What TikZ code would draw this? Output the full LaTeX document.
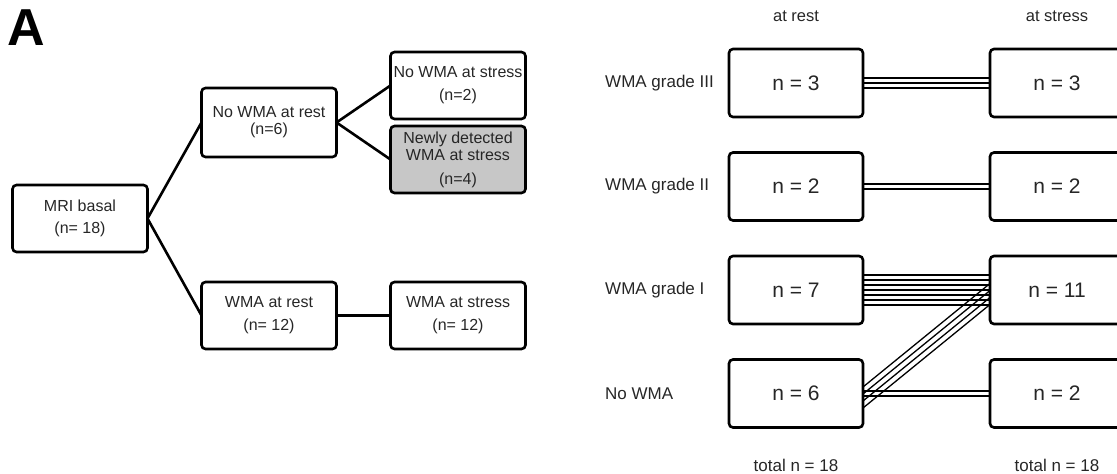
\documentclass[tikz,border=0pt]{standalone}
\usepackage{fontspec}
\setmainfont{Liberation Sans}
\usetikzlibrary{positioning}
\tikzstyle{box} = [draw, rectangle, rounded corners=4pt, line width=2.6pt,
 minimum width=135pt, minimum height=67pt, inner sep=2pt, outer sep=0pt, align=center,
 text=black!85, font=\fontsize{16}{17}\selectfont]
\tikzstyle{newbox} = [box, fill=black!22]
\tikzstyle{count} = [box, minimum width=134pt, minimum height=68pt,
 font=\fontsize{21}{24}\selectfont, node distance=35.5pt]
\tikzstyle{lab} = [inner sep=0pt, text=black!85, font=\fontsize{17}{20}\selectfont]
\tikzstyle{branch} = [line width=2.6pt]
\tikzstyle{patient} = [line width=1.3pt]

\begin{document}
\begin{tikzpicture}
	\useasboundingbox (0pt,0pt) rectangle (1117pt,-474pt);
	
	\node [anchor=north west, inner sep=0pt, font=\fontsize{52}{52}\selectfont\bfseries] (panel) at (7pt,-10pt) {A};
	
	\node [box] (mri) at (80pt,-218.5pt) {MRI basal\\[5pt](n= 18)};
	\node [box, minimum height=69pt, above right=28pt and 54pt of mri] (norest) {No WMA at rest\\(n=6)};
	\node [box, below right=30pt and 54pt of mri] (wrest) {WMA at rest\\[6pt](n= 12)};
	\node [coordinate, right=54pt of norest] (split) {};
	\node [box, above right=3.5pt and 0pt of split] (nostress) {No WMA at stress\\[6pt](n=2)};
	\node [newbox, below right=3.5pt and 0pt of split] (newly) {Newly detected\\WMA at stress\\[7pt](n=4)};
	\node [box, right=54pt of wrest] (wstress) {WMA at stress\\[6pt](n= 12)};
	
	\draw [branch] (mri.east) -- (norest.west);
	\draw [branch] (mri.east) -- (wrest.west);
	\draw [branch] (norest.east) -- (nostress.west);
	\draw [branch] (norest.east) -- (newly.west);
	\draw [branch] (wrest) -- (wstress);
	
	% grades at rest and at stress
	\node [count] (r3) at (796pt,-83pt) {n = 3};
	\node [count, below=of r3] (r2) {n = 2};
	\node [count, below=of r2] (r1) {n = 7};
	\node [count, below=of r1] (r0) {n = 6};
	\node [count, right=127pt of r3] (s3) {n = 3};
	\node [count, right=127pt of r2] (s2) {n = 2};
	\node [count, right=127pt of r1] (s1) {n = 11};
	\node [count, right=127pt of r0] (s0) {n = 2};
	
	\node [lab, left=124pt of r3, anchor=west] (g3) {WMA grade III};
	\node [lab, left=124pt of r2, anchor=west] (g2) {WMA grade II};
	\node [lab, left=124pt of r1, anchor=west] (g1) {WMA grade I};
	\node [lab, left=124pt of r0, anchor=west] (g0) {No WMA};
	
	\node [lab, font=\fontsize{16.5}{20}\selectfont, above=27pt of r3] (hrest) {at rest};
	\node [lab, font=\fontsize{16.5}{20}\selectfont, above=27pt of s3] (hstress) {at stress};
	\node [lab, below=31pt of r0] (trest) {total n = 18};
	\node [lab, below=31pt of s0] (tstress) {total n = 18};
	
	\foreach \k in {-5,0,5}
		\draw [patient] ([yshift=\k pt]r3.east) -- ([yshift=\k pt]s3.west);
	\foreach \k in {-2.5,2.5}
		\draw [patient] ([yshift=\k pt]r2.east) -- ([yshift=\k pt]s2.west);
	\foreach \k in {-15,-10,-5,0,5,10,15}
		\draw [patient] ([yshift=\k pt]r1.east) -- ([yshift=\k pt]s1.west);
	\foreach \k in {-2.5,2.5}
		\draw [patient] ([yshift=\k pt]r0.east) -- ([yshift=\k pt]s0.west);
	\foreach \k in {-14.5,-7.5,-0.5,6.5}
		\draw [patient] ([yshift=\k pt]r0.east) -- ([yshift=\k pt]s1.west);
	
\end{tikzpicture}
\end{document}
